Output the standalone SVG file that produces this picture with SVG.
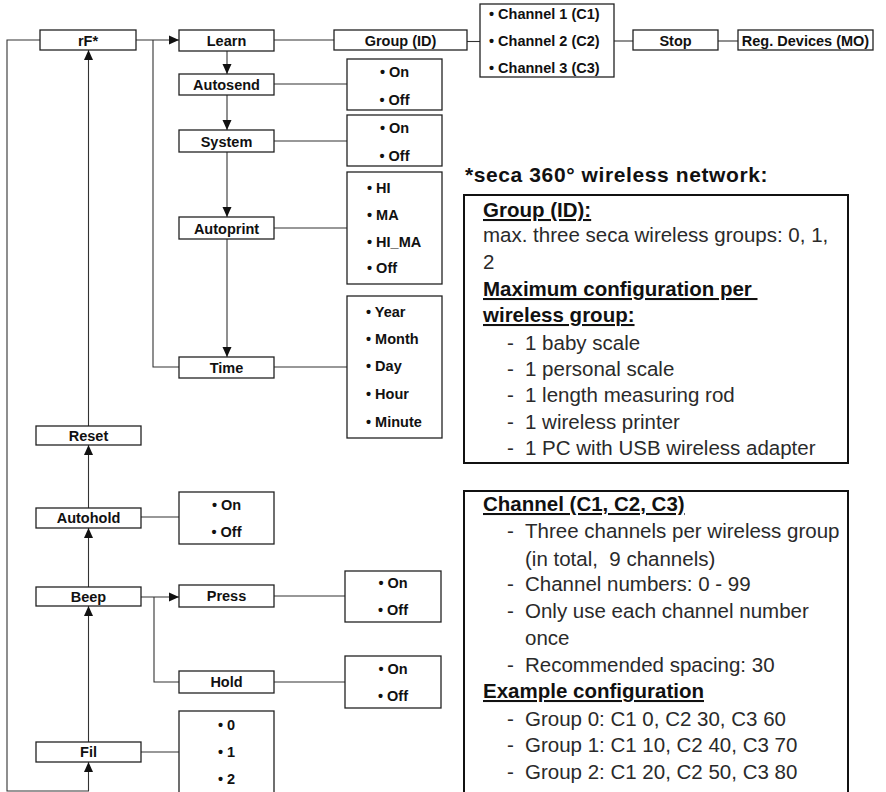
<svg xmlns="http://www.w3.org/2000/svg" width="886" height="792" viewBox="0 0 886 792">
<defs>
<marker id="arr" markerUnits="userSpaceOnUse" markerWidth="10" markerHeight="10" refX="10" refY="5" orient="auto">
<path d="M0,0.5 L10,5 L0,9.5 z" fill="#111"/>
</marker>
<style>
.box{fill:#fff;stroke:#222;stroke-width:1.3}
.nbox{fill:#fff;stroke:#111;stroke-width:2}
.lbl{font-family:"Liberation Sans",Arial,sans-serif;font-weight:bold;font-size:14.5px;fill:#111;text-anchor:middle}
.itm{font-family:"Liberation Sans",Arial,sans-serif;font-weight:bold;font-size:14.5px;fill:#111}
.c{fill:none;stroke:#333;stroke-width:1.1}
.a{fill:none;stroke:#333;stroke-width:1.1;marker-end:url(#arr)}
.h{font-family:"Liberation Sans",Arial,sans-serif;font-weight:bold;font-size:20.5px;fill:#111;text-decoration:underline}
.t{font-family:"Liberation Sans",Arial,sans-serif;font-size:20.5px;fill:#2a2a2a}
</style>
</defs>
<rect width="886" height="792" fill="#fff"/>
<g id="connectors">
<polyline class="a" points="40,40 7,40 7,791 88.5,791 88.5,762"/>
<line class="a" x1="88.5" y1="742" x2="88.5" y2="606"/>
<line class="a" x1="88.5" y1="587" x2="88.5" y2="528"/>
<line class="a" x1="88.5" y1="508" x2="88.5" y2="445"/>
<line class="a" x1="88.5" y1="426" x2="88.5" y2="50"/>
<line class="a" x1="136" y1="40" x2="179" y2="40"/>
<polyline class="c" points="153,40 153,367 179,367"/>
<line class="a" x1="227" y1="51" x2="227" y2="74"/>
<line class="a" x1="227" y1="95" x2="227" y2="130"/>
<line class="a" x1="227" y1="152" x2="227" y2="217"/>
<line class="a" x1="227" y1="239" x2="227" y2="357"/>
<line class="c" x1="274" y1="40" x2="334" y2="40"/>
<line class="c" x1="467" y1="41.5" x2="480" y2="41.5"/>
<line class="c" x1="614" y1="41" x2="633" y2="41"/>
<line class="c" x1="718" y1="41" x2="738" y2="41"/>
<line class="c" x1="274" y1="84" x2="347" y2="84"/>
<line class="c" x1="274" y1="141" x2="347" y2="141"/>
<line class="c" x1="274" y1="228" x2="347" y2="228"/>
<line class="c" x1="274" y1="367" x2="347" y2="367"/>
<line class="c" x1="141" y1="517" x2="179" y2="517"/>
<line class="a" x1="141" y1="597" x2="179" y2="597"/>
<polyline class="c" points="154,597 154,682 179,682"/>
<line class="c" x1="274" y1="596" x2="345" y2="596"/>
<line class="c" x1="274" y1="682" x2="345" y2="682"/>
<line class="c" x1="141" y1="752" x2="179" y2="752"/>
</g>
<g id="rF"><rect class="box" x="40" y="30" width="96" height="20"/><text class="lbl" x="88" y="45.5">rF*</text></g>
<g id="learn"><rect class="box" x="179" y="30" width="95" height="21"/><text class="lbl" x="226.5" y="46">Learn</text></g>
<g id="autosend"><rect class="box" x="179" y="74" width="95" height="21"/><text class="lbl" x="226.5" y="90">Autosend</text></g>
<g id="system"><rect class="box" x="179" y="130" width="95" height="22"/><text class="lbl" x="226.5" y="146.5">System</text></g>
<g id="autoprint"><rect class="box" x="179" y="217" width="95" height="22"/><text class="lbl" x="226.5" y="233.5">Autoprint</text></g>
<g id="time"><rect class="box" x="179" y="357" width="95" height="21"/><text class="lbl" x="226.5" y="372.5">Time</text></g>
<g id="group"><rect class="box" x="334" y="30" width="133" height="20"/><text class="lbl" x="400.5" y="45.5">Group (ID)</text></g>
<g id="channels"><rect class="box" x="480" y="4" width="134" height="73"/>
<text class="itm" x="489" y="19">• Channel 1 (C1)</text>
<text class="itm" x="489" y="46">• Channel 2 (C2)</text>
<text class="itm" x="489" y="72.5">• Channel 3 (C3)</text></g>
<g id="stop"><rect class="box" x="633" y="30" width="85" height="20"/><text class="lbl" x="675.5" y="45.5">Stop</text></g>
<g id="regdevices"><rect class="box" x="738" y="30" width="135" height="20"/><text class="lbl" x="805.5" y="45.5">Reg. Devices (MO)</text></g>
<g id="autosend-opts"><rect class="box" x="347" y="59" width="95" height="51"/>
<text class="lbl" x="394.5" y="77">• On</text><text class="lbl" x="394.5" y="105">• Off</text></g>
<g id="system-opts"><rect class="box" x="347" y="115" width="95" height="51"/>
<text class="lbl" x="394.5" y="133">• On</text><text class="lbl" x="394.5" y="161">• Off</text></g>
<g id="autoprint-opts"><rect class="box" x="347" y="172" width="95" height="112"/>
<text class="itm" x="367" y="193">• HI</text><text class="itm" x="367" y="219.5">• MA</text><text class="itm" x="367" y="246.5">• HI_MA</text><text class="itm" x="367" y="273">• Off</text></g>
<g id="time-opts"><rect class="box" x="347" y="296" width="95" height="142"/>
<text class="itm" x="366" y="317">• Year</text><text class="itm" x="366" y="344">• Month</text><text class="itm" x="366" y="371">• Day</text><text class="itm" x="366" y="399">• Hour</text><text class="itm" x="366" y="427">• Minute</text></g>
<g id="reset"><rect class="box" x="36" y="426" width="105" height="19"/><text class="lbl" x="88.5" y="440.5">Reset</text></g>
<g id="autohold"><rect class="box" x="36" y="508" width="105" height="20"/><text class="lbl" x="88.5" y="523">Autohold</text></g>
<g id="autohold-opts"><rect class="box" x="179" y="492" width="95" height="52"/>
<text class="lbl" x="226.5" y="510">• On</text><text class="lbl" x="226.5" y="537">• Off</text></g>
<g id="beep"><rect class="box" x="36" y="587" width="105" height="19"/><text class="lbl" x="88.5" y="601.5">Beep</text></g>
<g id="press"><rect class="box" x="179" y="585" width="95" height="22"/><text class="lbl" x="226.5" y="601">Press</text></g>
<g id="press-opts"><rect class="box" x="345" y="571" width="96" height="51"/>
<text class="lbl" x="393" y="587.5">• On</text><text class="lbl" x="393" y="615">• Off</text></g>
<g id="hold"><rect class="box" x="179" y="671" width="95" height="22"/><text class="lbl" x="226.5" y="687">Hold</text></g>
<g id="hold-opts"><rect class="box" x="345" y="656" width="96" height="52"/>
<text class="lbl" x="393" y="674">• On</text><text class="lbl" x="393" y="701">• Off</text></g>
<g id="fil"><rect class="box" x="36" y="742" width="105" height="20"/><text class="lbl" x="88.5" y="757">Fil</text></g>
<g id="fil-opts"><rect class="box" x="179" y="711" width="95" height="95"/>
<text class="lbl" x="226.5" y="730">• 0</text><text class="lbl" x="226.5" y="757">• 1</text><text class="lbl" x="226.5" y="784">• 2</text></g>
<g id="note-title"><text font-family="Liberation Sans, Arial, sans-serif" font-weight="bold" font-size="21" letter-spacing="0.6" fill="#111" x="465" y="182">*seca 360° wireless network:</text></g>
<g id="note-group"><rect class="nbox" x="464" y="195" width="384" height="268"/>
<text class="h" x="483" y="217">Group (ID):</text>
<text class="t" x="483" y="242">max. three seca wireless groups: 0, 1,</text>
<text class="t" x="483" y="269">2</text>
<text class="h" x="483" y="296" xml:space="preserve">Maximum configuration per </text>
<text class="h" x="483" y="322">wireless group:</text>
<text class="t" x="507" y="350">-</text><text class="t" x="525" y="350">1 baby scale</text>
<text class="t" x="507" y="376">-</text><text class="t" x="525" y="376">1 personal scale</text>
<text class="t" x="507" y="402">-</text><text class="t" x="525" y="402">1 length measuring rod</text>
<text class="t" x="507" y="429">-</text><text class="t" x="525" y="429">1 wireless printer</text>
<text class="t" x="507" y="455">-</text><text class="t" x="525" y="455">1 PC with USB wireless adapter</text>
</g>
<g id="note-channel"><rect class="nbox" x="464" y="491" width="384" height="320"/>
<text class="h" x="483" y="511">Channel (C1, C2, C3)</text>
<text class="t" x="507" y="538">-</text><text class="t" x="525" y="538">Three channels per wireless group</text>
<text class="t" x="525" y="566">(in total, &#160;9 channels)</text>
<text class="t" x="507" y="591">-</text><text class="t" x="525" y="591">Channel numbers: 0 - 99</text>
<text class="t" x="507" y="618">-</text><text class="t" x="525" y="618">Only use each channel number</text>
<text class="t" x="525" y="645">once</text>
<text class="t" x="507" y="672">-</text><text class="t" x="525" y="672">Recommended spacing: 30</text>
<text class="h" x="483" y="698">Example configuration</text>
<text class="t" x="507" y="726">-</text><text class="t" x="525" y="726">Group 0: C1 0, C2 30, C3 60</text>
<text class="t" x="507" y="752">-</text><text class="t" x="525" y="752">Group 1: C1 10, C2 40, C3 70</text>
<text class="t" x="507" y="779">-</text><text class="t" x="525" y="779">Group 2: C1 20, C2 50, C3 80</text>
</g>
</svg>
